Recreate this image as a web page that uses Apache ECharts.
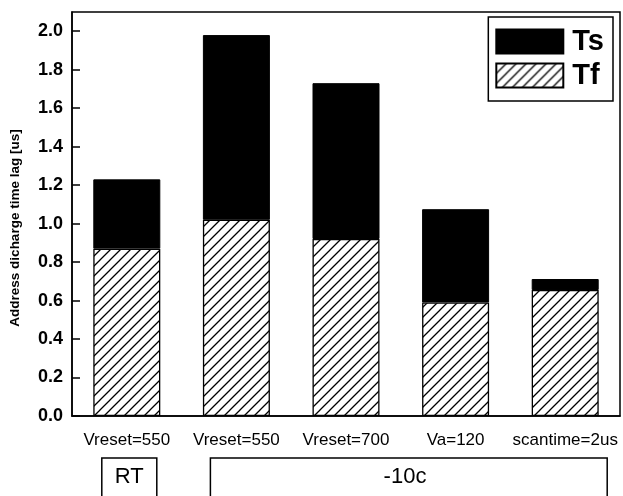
<!DOCTYPE html>
<html>
<head>
<meta charset="utf-8">
<script src="https://cdn.jsdelivr.net/npm/echarts@6/dist/echarts.min.js"></script>
<style>
    html, body { margin: 0; padding: 0; background: #fff; }
    #chart { width: 623px; height: 496px; }
</style>
</head>
<body>
<div id="chart"></div>
<script>
// categories and values
const categories = ['Vreset=550', 'Vreset=550', 'Vreset=700', 'Va=120', 'scantime=2us'];
const tfValues = [0.87, 1.02, 0.92, 0.59, 0.655];
const tsValues = [0.36, 0.96, 0.81, 0.485, 0.057];
const groups = [
    {name: 'RT', from: 0, to: 0},
    {name: '-10c', from: 1, to: 4},
];

const font = '"Liberation Sans", Arial, sans-serif';

// diagonal hatch for Tf
function makeHatch() {
    const c = document.createElement('canvas');
    c.width = 10;
    c.height = 10;
    const ctx = c.getContext('2d');
    ctx.fillStyle = '#fff';
    ctx.fillRect(0, 0, 10, 10);
    ctx.strokeStyle = '#000';
    ctx.lineWidth = 1.3;
    ctx.beginPath();
    ctx.moveTo(-1, 11); ctx.lineTo(11, -1);
    ctx.moveTo(-6, 6); ctx.lineTo(6, -6);
    ctx.moveTo(4, 16); ctx.lineTo(16, 4);
    ctx.stroke();
    return c;
}

const chart = echarts.init(document.getElementById('chart'));
const hatch = {image: makeHatch(), repeat: 'repeat'};

chart.setOption({
    animation: false,
    grid: {
        left: 71, right: 3, top: 12, bottom: 80,
        show: true, borderColor: '#000', borderWidth: 1.5,
    },
    legend: {
        orient: 'vertical',
        right: 10, top: 17,
        data: ['Ts', 'Tf'],
        icon: 'rect',
        itemWidth: 67, itemHeight: 24, itemGap: 5,
        padding: [10, 9, 11, 7],
        borderColor: '#000', borderWidth: 1.5,
        textStyle: {fontFamily: font, fontSize: 29, fontWeight: 'bold', color: '#000', lineHeight: 24, padding: [0, 0, 0, 4]},
    },
    xAxis: [
        {
            type: 'category',
            data: categories,
            axisLine: {lineStyle: {color: '#000', width: 1.5}},
            axisTick: {alignWithLabel: true, length: 9, lineStyle: {color: '#000', width: 1.5}},
            axisLabel: {interval: 0, fontFamily: font, fontSize: 17, color: '#000', margin: 16},
        },
        {
            type: 'category',
            data: categories,
            position: 'bottom',
            axisLine: {show: false},
            axisTick: {inside: true, length: 5, lineStyle: {color: '#000', width: 1.5}},
            axisLabel: {show: false},
        },
    ],
    yAxis: {
        type: 'value',
        min: 0, max: 2.1, interval: 0.2,
        name: 'Address dicharge time lag [us]',
        nameLocation: 'middle',
        nameGap: 50,
        nameTextStyle: {fontFamily: font, fontSize: 13.5, fontWeight: 'bold', color: '#000', padding: [0, 0, 0, -28]},
        axisLine: {show: true, lineStyle: {color: '#000', width: 1.5}},
        axisTick: {show: true, inside: true, length: 8, lineStyle: {color: '#000', width: 1.5}},
        splitLine: {show: false},
        axisLabel: {
            fontFamily: font, fontSize: 18, fontWeight: 'bold', color: '#000', margin: 9,
            showMaxLabel: false,
            formatter: (v) => v.toFixed(1),
        },
    },
    series: [
        {
            name: 'Tf', type: 'bar', stack: 'total', barWidth: 67,
            data: tfValues,
            itemStyle: {color: hatch, borderColor: '#000', borderWidth: 1.3},
        },
        {
            name: 'Ts', type: 'bar', stack: 'total', barWidth: 67,
            data: tsValues,
            itemStyle: {color: '#000', borderColor: '#000', borderWidth: 1},
        },
    ],
});

// group boxes under the category labels
const graphics = [];
groups.forEach((g) => {
    const x0 = chart.convertToPixel({xAxisIndex: 0}, g.from);
    const x1 = chart.convertToPixel({xAxisIndex: 0}, g.to);
    const left = g.from === g.to ? x0 - 25 : x0 - 26;
    const right = g.from === g.to ? x1 + 30 : x1 + 42;
    const textX = g.from === g.to ? (left + right) / 2 : 405;
    graphics.push({
        type: 'rect',
        shape: {x: left, y: 458, width: right - left, height: 42},
        style: {fill: '#fff', stroke: '#000', lineWidth: 1.5},
    });
    graphics.push({
        type: 'text',
        x: textX, y: 477,
        style: {text: g.name, font: '22px ' + font, fill: '#000', align: 'center', verticalAlign: 'middle'},
    });
});
chart.setOption({graphic: graphics});
</script>
</body>
</html>
